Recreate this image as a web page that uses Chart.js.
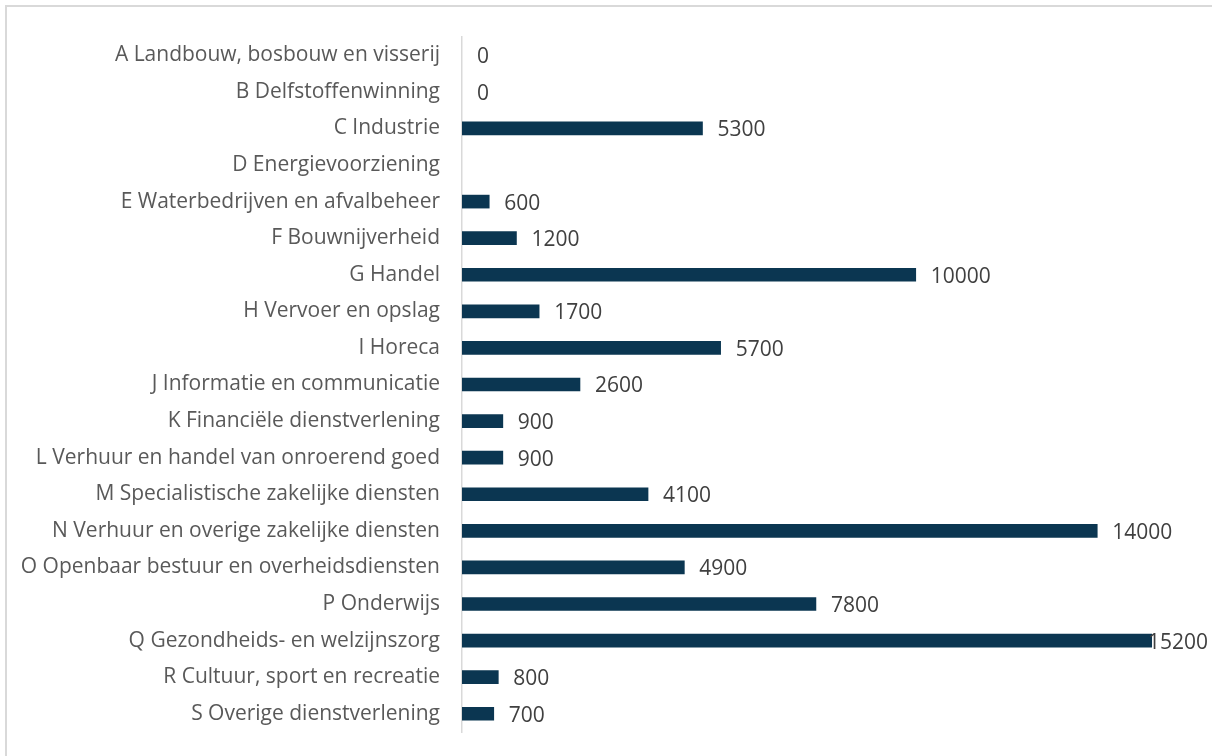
<!DOCTYPE html>
<html>
<head>
<meta charset="utf-8">
<script src="https://cdn.jsdelivr.net/npm/chart.js@4.4.1/dist/chart.umd.min.js"></script>
<style>
  html, body { margin: 0; padding: 0; background: #fff; overflow: hidden; }
  #wrap { position: relative; width: 1212px; height: 756px; }
  #frame { position: absolute; left: 5px; top: 5px; width: 1300px; height: 900px;
           border: 2px solid #d9d9d9; pointer-events: none; }
</style>
</head>
<body>
<div id="wrap">
  <canvas id="chart" width="1212" height="756"></canvas>
  <div id="frame"></div>
</div>
<script>
'use strict'

// sectors (SBI) and number of jobs per sector
var sectors = [
  'A Landbouw, bosbouw en visserij',
  'B Delfstoffenwinning',
  'C Industrie',
  'D Energievoorziening',
  'E Waterbedrijven en afvalbeheer',
  'F Bouwnijverheid',
  'G Handel',
  'H Vervoer en opslag',
  'I Horeca',
  'J Informatie en communicatie',
  'K Financiële dienstverlening',
  'L Verhuur en handel van onroerend goed',
  'M Specialistische zakelijke diensten',
  'N Verhuur en overige zakelijke diensten',
  'O Openbaar bestuur en overheidsdiensten',
  'P Onderwijs',
  'Q Gezondheids- en welzijnszorg',
  'R Cultuur, sport en recreatie',
  'S Overige dienstverlening'
];
var jobs = [0, 0, 5300, null, 600, 1200, 10000, 1700, 5700, 2600, 900, 900, 4100, 14000, 4900, 7800, 15200, 800, 700];

var fontFamily = '"Open Sans", sans-serif';
var fontSize = 21;

//----------value labels at the end of each bar----------//
var valueLabels = {
  id: 'valueLabels',
  afterDatasetsDraw: function(chart) {
    var ctx = chart.ctx;
    var meta = chart.getDatasetMeta(0);
    ctx.save();
    ctx.font = fontSize + 'px ' + fontFamily;
    ctx.fillStyle = '#404040';
    ctx.textBaseline = 'middle';
    meta.data.forEach(function(bar, i) {
      var v = jobs[i];
      if (v === null) return;
      var text = String(v);
      var w = ctx.measureText(text).width;
      var x = Math.min(bar.x + 15, chart.width - 4 - w);
      ctx.fillText(text, x, bar.y + 2);
    });
    ctx.restore();
  }
};

var ctx = document.getElementById('chart').getContext('2d');
var jobsChart = new Chart(ctx, {
  type: 'bar',
  data: {
    labels: sectors,
    datasets: [{
      data: jobs,
      // zero-length bars stay invisible
      backgroundColor: function(c) { return c.raw ? '#0b3651' : 'rgba(0,0,0,0)'; },
      borderWidth: 0,
      barThickness: 13
    }]
  },
  options: {
    indexAxis: 'y',
    responsive: false,
    animation: false,
    layout: { padding: { top: 37, bottom: 24, right: 24, left: 0 } },
    plugins: {
      legend: { display: false },
      tooltip: { enabled: false }
    },
    scales: {
      x: {
        display: false,
        min: 0,
        max: 16000
      },
      y: {
        afterFit: function(scale) {
          scale.width = 462;
          scale.paddingTop = 0;
          scale.paddingBottom = 0;
        },
        grid: { display: true, drawOnChartArea: false, drawTicks: false },
        border: { display: true, color: '#d9d9d9', width: 1.5 },
        ticks: {
          padding: 22,
          color: '#595959',
          font: { family: fontFamily, size: fontSize }
        }
      }
    }
  },
  plugins: [valueLabels]
});
</script>
</body>
</html>
